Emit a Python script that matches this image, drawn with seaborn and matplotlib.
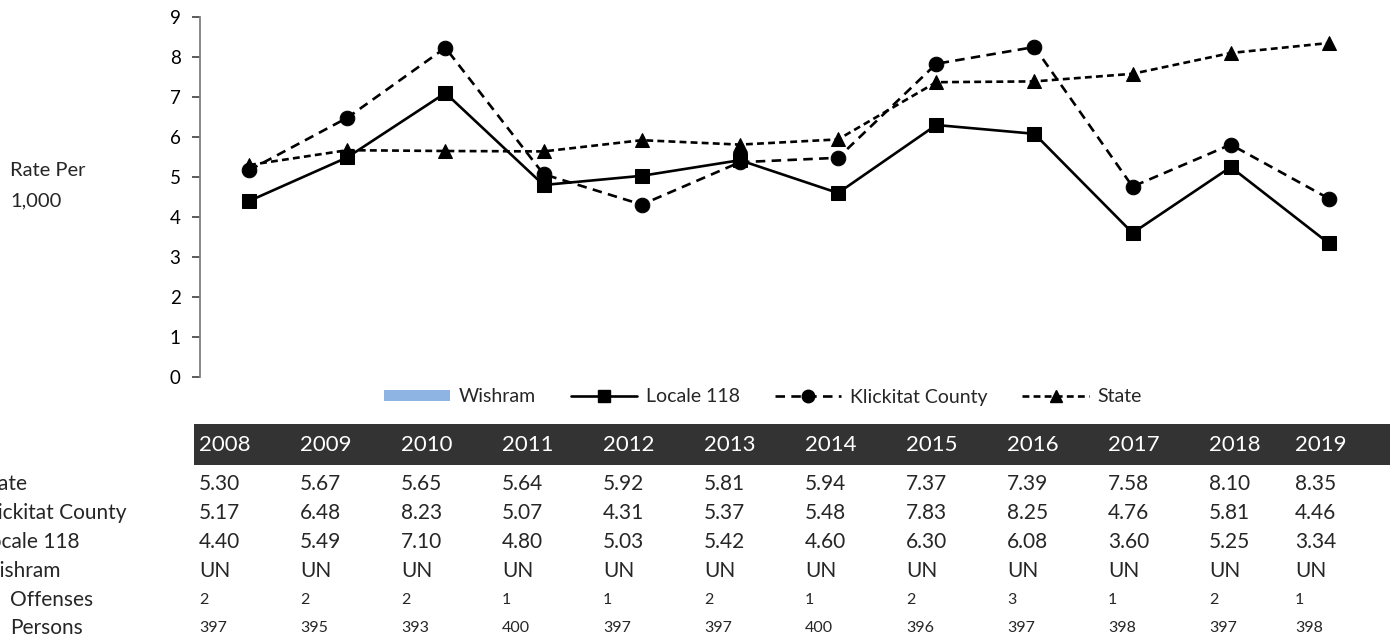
import matplotlib
matplotlib.use("Agg")
import matplotlib.pyplot as plt
from matplotlib.patches import Rectangle, Patch
from matplotlib.lines import Line2D
import seaborn as sns
import pandas as pd

years = ["2008", "2009", "2010", "2011", "2012", "2013",
         "2014", "2015", "2016", "2017", "2018", "2019"]
state = [5.30, 5.67, 5.65, 5.64, 5.92, 5.81, 5.94, 7.37, 7.39, 7.58, 8.10, 8.35]
klickitat = [5.17, 6.48, 8.23, 5.07, 4.31, 5.37, 5.48, 7.83, 8.25, 4.76, 5.81, 4.46]
locale = [4.40, 5.49, 7.10, 4.80, 5.03, 5.42, 4.60, 6.30, 6.08, 3.60, 5.25, 3.34]
wishram = ["UN"] * 12
offenses = [2, 2, 2, 1, 1, 2, 1, 2, 3, 1, 2, 1]
persons = [397, 395, 393, 400, 397, 397, 400, 396, 397, 398, 397, 398]
y_ticks = list(range(0, 10))

W, H = 1396, 641
sns.set_theme(style="white")
plt.rcParams["font.family"] = ["Lato", "DejaVu Sans"]

fig = plt.figure(figsize=(W / 100, H / 100), dpi=100)


def fx(px):
    return px / W


def fy(py):
    return 1 - py / H


ax = fig.add_axes([fx(200), fy(377), fx(1378) - fx(200), fy(17) - fy(377)])

pos = list(range(len(years)))
df = pd.DataFrame({"pos": pos, "Locale 118": locale,
                   "Klickitat County": klickitat, "State": state})

styles = {
    "Locale 118": dict(marker="s", dashes=None),
    "Klickitat County": dict(marker="o", dashes=(3.6, 2.4)),
    "State": dict(marker="^", dashes=(2.6, 1.6)),
}
for name in ["Klickitat County", "State", "Locale 118"]:
    st = styles[name]
    sns.lineplot(x="pos", y=name, data=df, ax=ax, color="black", linewidth=1.9,
                 marker=st["marker"], markersize=10.5, markeredgecolor="black",
                 markerfacecolor="black", clip_on=False)
    ln = ax.lines[-1]
    if st["dashes"] is not None:
        ln.set_dashes(st["dashes"])

ax.set_xlim(-0.5, len(years) - 0.5)
ax.set_ylim(0, 9)
ax.set_yticks(y_ticks)
ax.set_yticklabels([str(t) for t in y_ticks], fontsize=13.5, color="black")
ax.set_xticks([])
ax.set_xlabel("")
ax.set_ylabel("")
for s in ["top", "right", "bottom"]:
    ax.spines[s].set_visible(False)
ax.spines["left"].set_color("#7f7f7f")
ax.spines["left"].set_linewidth(1.3)
ax.tick_params(axis="y", length=6, width=1.2, color="#404040", pad=8, left=True)

fig.text(fx(10), fy(170), "Rate Per", fontsize=14.5, va="center", ha="left")
fig.text(fx(10), fy(201), "1,000", fontsize=14.5, va="center", ha="left")

# legend
handles = [
    Patch(facecolor="#8eb4e3", edgecolor="none", label="Wishram"),
    Line2D([], [], color="black", linestyle="-", marker="s", markersize=9,
           linewidth=1.9, label="Locale 118"),
    Line2D([], [], color="black", linestyle=(0, (3.6, 2.4)), marker="o",
           markersize=9, linewidth=1.9, label="Klickitat County"),
    Line2D([], [], color="black", linestyle=(0, (2.6, 1.6)), marker="^",
           markersize=9, linewidth=1.9, label="State"),
]
fig.legend(handles=handles, loc="center", bbox_to_anchor=(fx(763), fy(397)),
           ncol=4, frameon=False, fontsize=14, handlelength=3.4,
           handleheight=0.45, columnspacing=1.8, handletextpad=0.45)

# data table below the chart
col_x = [199 + 101 * i for i in range(len(years) - 1)] + [1295]
fig.patches.append(Rectangle((fx(194), fy(465)), fx(1390) - fx(194),
                             fy(424) - fy(465), transform=fig.transFigure,
                             facecolor="#333333", edgecolor="none"))
for x, yr in zip(col_x, years):
    fig.text(fx(x), fy(445), yr, color="white", fontsize=16, va="center", ha="left")

rows = [
    ("State", [f"{v:.2f}" for v in state], -21, 15),
    ("Klickitat County", [f"{v:.2f}" for v in klickitat], -21, 15),
    ("Locale 118", [f"{v:.2f}" for v in locale], -21, 15),
    ("Wishram", wishram, -21, 15),
    ("Offenses", [str(v) for v in offenses], 10, 11.5),
    ("Persons", [str(v) for v in persons], 10, 11.5),
]
row_y = [484, 513, 542, 571, 600, 628]
for (label, vals, lx, fs), y in zip(rows, row_y):
    fig.text(fx(lx), fy(y), label, fontsize=15, va="center", ha="left")
    for x, v in zip(col_x, vals):
        fig.text(fx(x), fy(y), v, fontsize=fs, va="center", ha="left")

fig.savefig("out.png", dpi=100)
